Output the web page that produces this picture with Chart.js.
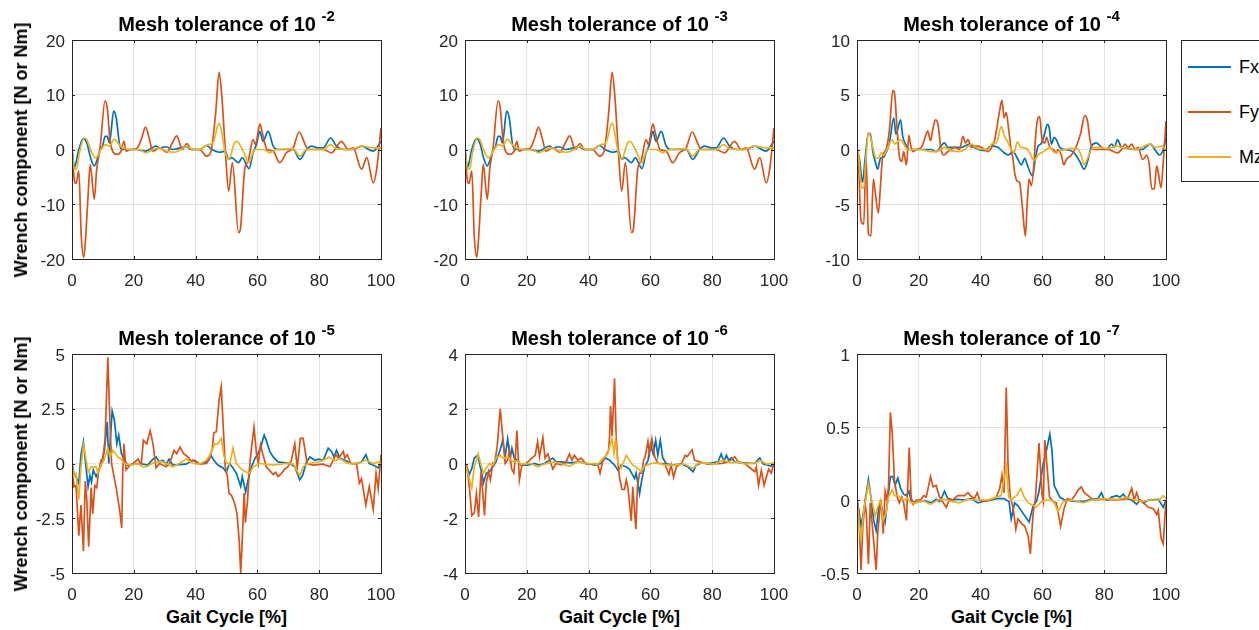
<!DOCTYPE html>
<html>
<head>
<meta charset="utf-8">
<script src="https://cdn.jsdelivr.net/npm/chart.js@4.4.1/dist/chart.umd.min.js"></script>
<style>
  body { margin: 0; width: 1259px; height: 630px; background: #fff; position: relative; overflow: hidden;
         font-family: "Liberation Sans", Arial, sans-serif; color: #000; }
  .plot { position: absolute; }
  .title { position: absolute; font-weight: bold; font-size: 20px; line-height: 20px; white-space: nowrap; transform: translateX(-50%); }
  .title .sup { font-size: 15px; position: relative; top: -10px; }
  .ylab { position: absolute; font-weight: bold; font-size: 18px; line-height: 18px; white-space: nowrap;
          transform: translate(-50%, -50%) rotate(-90deg); }
  .xlab { position: absolute; font-weight: bold; font-size: 18px; line-height: 18px; white-space: nowrap; transform: translateX(-50%); }
  #legend { position: absolute; left: 1181px; top: 40px; width: 100px; height: 142px; border: 1px solid #262626; box-sizing: border-box; background: #fff; }
  #legend .row { position: absolute; left: 6px; height: 20px; }
  #legend .sw { position: absolute; left: 0; top: 9px; width: 43px; height: 2px; }
  #legend .lt { position: absolute; left: 51px; top: 0; font-size: 18px; line-height: 20px; color: #000; }
</style>
</head>
<body>
<div id="root"></div>
<div id="legend"></div>
<script>
'use strict';

// ── Data (gait cycle %, value) ───────────────────────────────
const SERIES = ['Fx', 'Fy', 'Mz'];
const COLORS = ['#0072BD', '#D95319', '#EDB120'];
const X_TICKS = [0, 20, 40, 60, 80, 100];
const TOLERANCES = ['-2', '-3', '-4', '-5', '-6', '-7'];
const Y_RANGES = [[-20, 20, 10], [-20, 20, 10], [-10, 10, 5], [-5, 5, 2.5], [-4, 4, 2], [-0.5, 1, 0.5]];

// tolerance 1e-2 (1e-3 gives the same curves)
const FX_2 = [[0,0],[0.8,-3.3],[1.3,-2.4],[2.2,0],[3.7,2.0],[4.8,1.2],[6,-1.5],[7.2,-3.0],[8,-2.1],[9.1,0],[9.9,0.6],[10.7,2.4],[11.4,2.4],[12.1,1.2],[13.5,7.0],[14.3,5.8],[15.4,0.9],[16.4,0],[21,0],[23.8,-0.3],[27.2,0.6],[28.3,0.3],[30.5,0.5],[32.6,0],[37,0.5],[38.6,0],[41.3,0],[43.5,0.7],[45.6,-0.1],[47.8,-0.5],[49.6,-0.3],[50.7,-1.8],[51.6,-1.5],[53.9,-2.4],[55.1,-1.5],[57.3,-3.5],[58.6,-0.6],[59.7,0.9],[60.8,3.3],[61.8,1.5],[63.5,3.3],[65.1,0.6],[66.7,0],[71.6,0],[73.7,-1.8],[75.9,0],[77.5,0.6],[79.7,0.3],[81.3,0.3],[83.7,2.1],[85.6,0.6],[87.8,0],[91,0],[93.7,0.6],[97.5,-0.3],[100,1.5]];
const FY_2 = [[0,0],[0.8,-5.8],[1.3,-6.2],[2.2,-3.9],[3.0,-15.8],[3.8,-19.7],[4.3,-17],[5.2,-8.5],[5.9,-2.7],[7.2,-9.1],[8,-3.6],[9.1,0.3],[10.7,8.9],[11.4,7.6],[12.3,1.8],[13.3,-0.5],[14.5,-0.9],[15.9,-0.3],[16.8,1.5],[17.5,-0.3],[19,0],[21,0.2],[22.5,2],[23.8,4.1],[25,2],[26.2,-0.3],[28.3,0.3],[30.7,-0.5],[32.3,1],[33.9,2.5],[35.7,0],[37.2,1.1],[38.6,0],[41.3,0],[43.5,-1.2],[45,-0.3],[46.5,6.7],[47.6,14.1],[48.5,9.7],[49.6,0],[50.7,-7.6],[51.9,-2.4],[53.9,-15.2],[54.5,-14.5],[55.9,-3.6],[57,-2.1],[58.6,1.8],[59.4,0.9],[60.8,4.7],[61.6,3.0],[63.1,0],[65.1,-0.3],[67.2,-2.4],[69.4,-0.6],[71.6,0.3],[73.5,3.2],[75.4,1.0],[76.4,0],[81.3,0],[84,-0.6],[87.2,1.5],[89.4,0],[91,0.3],[93.7,-3.6],[95.4,-1.5],[97.5,-6.1],[98.6,-3.6],[100,3.9]];
const MZ_2 = [[0,0],[0.8,-3.6],[1.5,-3.6],[2.4,-0.6],[4,2.1],[4.8,1.8],[6.2,-0.3],[7.6,-1.5],[8.3,-1.2],[9.4,0],[11,0.9],[12.1,0.6],[13.7,1.9],[14.8,1.2],[16.4,0.3],[18.6,0],[21.8,0],[23.8,-0.6],[26.2,0],[28.3,0.3],[30.5,-0.3],[33.2,-0.5],[35.3,0],[37,0.6],[39.1,0],[41.3,0],[44,0.9],[45.6,1.2],[47.6,4.8],[48.5,3.0],[49.4,0],[50.7,-1.8],[52.6,1.2],[53.4,1.5],[55.4,-0.3],[57.3,-2.4],[58.1,-1.2],[59.1,0],[61.8,0],[64,-0.6],[66.2,0],[71.6,0.1],[73.7,-1.2],[75.9,0],[81.3,0],[83.7,0.9],[85.6,0.1],[90,0],[93.7,0.6],[97.5,0.3],[100,0.3]];

// tolerance 1e-4
const FX_4 = [[0,0],[0.8,-0.9],[1.8,-3.0],[2.6,-0.9],[3.7,1.5],[4.3,1.4],[5.2,-0.3],[5.9,-1.1],[6.7,-1.8],[7.6,-0.8],[8.6,-0.7],[9.4,-0.3],[10.5,0.6],[11.9,2.9],[12.6,1.4],[14.1,2.7],[14.8,1.2],[15.7,0.5],[17,0],[24,0],[25.6,-0.2],[28.3,0.6],[29.4,0.2],[31.6,0.2],[33.7,0.2],[36.4,0.5],[38.6,0.1],[41.3,-0.1],[43.5,0.3],[45.6,0.2],[47.2,-0.2],[48.9,-0.5],[50.5,-0.2],[51.9,-0.8],[53.2,-1.4],[54.3,-0.8],[55.1,-1.4],[56.8,-2.4],[57.7,-0.9],[58.6,0.3],[59.5,0.5],[60.5,1.2],[61.6,2.3],[62.2,2.0],[62.9,0.5],[63.8,1.1],[64.5,0.9],[65.6,0.2],[67.2,0],[69.9,-0.2],[72.1,-1.1],[73.5,-1.8],[74.6,-1.1],[75.9,0.3],[77.5,0.6],[79.1,0.2],[80.8,0],[82.4,0.5],[83.3,0.2],[84.3,0.9],[85.4,0.3],[87.2,0.1],[90,0],[92.1,0],[95,0.5],[95.9,0.2],[98,-0.5],[99.1,0],[100,1.1]];
const FY_4 = [[0,0],[0.4,-0.6],[1.3,-6.5],[2.2,-6.8],[2.9,-0.5],[3.7,-7.7],[4.5,-7.9],[5.3,-2.7],[5.9,-3.9],[6.9,-5.8],[7.6,-3.3],[8.3,-0.6],[9.4,0],[10.5,1.8],[11.6,5.4],[12.1,5.2],[13,1.8],[13.7,-0.6],[14.5,-1.1],[15.1,-0.2],[16,-1.4],[16.8,1.3],[17.3,0.5],[18.1,-0.2],[19.1,0],[20.8,0.2],[22.4,1.4],[22.9,1.7],[23.8,0.8],[24.5,1.8],[25.4,2.7],[26.2,2.3],[27.2,0],[28.1,-0.5],[29.4,-0.2],[31.6,0.2],[33.2,0],[34.3,1.2],[35.1,0.6],[35.9,0.9],[37,0.2],[38.1,0.3],[39.1,0.3],[40.2,0.2],[41.3,0],[42.4,-0.2],[43.8,0.3],[44.5,0.8],[46.2,3.6],[46.9,4.5],[47.6,2.9],[48.3,3.4],[49.1,1.8],[49.9,0],[50.5,-0.9],[51,-2.1],[51.9,-2.9],[52.6,-3.0],[53.5,-5.2],[54.5,-7.9],[55.1,-4.8],[55.7,-2.7],[56.4,-3.3],[57.3,-1.2],[57.8,1.2],[58.6,2.9],[59.1,3.0],[59.9,0.9],[60.8,0.6],[61.3,1.1],[62.4,0.2],[63.5,0],[64.5,-0.3],[65.1,0],[66.2,-0.6],[66.9,-1.4],[67.8,-0.9],[69.4,-0.5],[71,0.3],[72.4,1.5],[73.7,3.1],[74.6,2.6],[75.4,0.9],[76.4,0],[81.3,0],[84.3,-0.3],[85.6,0],[86.7,0.5],[87.8,0.2],[88.9,0.5],[90,0],[91,0.2],[92.4,-0.9],[93,-0.8],[93.7,-0.5],[94.5,-1.2],[95.4,-3.6],[96.2,-3.6],[97,-1.5],[97.5,-2.1],[98.4,-3.5],[99.1,-1.2],[100,2.6]];
const MZ_4 = [[0,0],[0.4,-0.3],[1.5,-3.5],[2.2,-3.5],[2.8,-1.2],[3.7,1.5],[4.3,1.2],[5.1,0.2],[6.2,-0.8],[6.9,-0.8],[7.8,-0.3],[8.6,-0.5],[9.7,0],[11.4,0.9],[12.1,0.5],[14.1,0.9],[15.1,0.5],[16.4,0],[20.8,0],[24,-0.2],[25.6,-0.2],[28.3,0.2],[30.5,-0.1],[33.2,-0.2],[35.3,0.1],[37,0.5],[39.1,0.1],[42.4,0],[44,0.6],[45.1,0.6],[46.7,2.1],[47.6,1.3],[48.6,0.8],[49.9,0],[50.8,-0.3],[51.9,0.7],[53,0.2],[54.8,0.1],[55.9,-0.3],[57.3,-1.0],[58.6,-0.5],[60.8,-0.1],[62.4,0.2],[64,-0.3],[66.2,-0.1],[69.4,0.1],[71.6,0],[72.6,-0.6],[73.5,-1.4],[74.6,-0.8],[75.9,0],[78,0.2],[81.3,0.1],[84,0.3],[85.6,0.2],[90,0],[95,0.5],[96.4,0.2],[98.6,0.3],[100,0]];

// tolerance 1e-5
const FX_5 = [[0,0],[0.6,-0.45],[1.3,-0.6],[2.2,-0.9],[2.9,0.4],[3.7,1.0],[4.3,0.15],[5.2,-1.05],[5.8,-0.55],[6.3,-0.85],[6.9,-0.3],[7.8,-0.6],[8.4,-0.4],[9.4,-0.07],[10.5,0.6],[11.4,1.9],[11.9,0],[13,2.4],[13.7,2.0],[14.5,0.9],[15.1,1.3],[16,0.45],[17,0.15],[18,-0.07],[22,0],[24.5,-0.07],[26.2,0.2],[27.2,0.3],[28.3,0.07],[29.4,0.15],[30.5,-0.03],[31.4,0.2],[32.6,-0.07],[36.9,-0.03],[39.1,0.15],[41.3,-0.03],[43.5,0.07],[44.8,0.4],[45.9,0.15],[47.2,-0.07],[48.9,-0.2],[49.9,-0.4],[51,0],[52.1,-0.2],[53.2,-0.45],[54.6,-1.05],[55.1,-0.6],[56.2,-1.3],[57,-0.75],[58.1,-0.15],[59.1,0.2],[60.2,0.45],[61.1,0.75],[62.2,1.3],[62.9,1.05],[64,0.55],[65.1,0.3],[66.7,0.07],[70.5,0],[72.1,-0.15],[73.7,-0.75],[74.6,-0.55],[75.9,0.07],[77,0.3],[78.6,0.15],[79.7,0.2],[81.3,0.15],[82.9,0.7],[84,0.55],[84.8,0.3],[85.6,0.6],[86.7,0.25],[88.3,0.15],[91,-0.03],[93.7,0.07],[95.1,0.4],[96.2,0],[97.5,-0.07],[99.1,-0.2],[100,0.07]];
const FY_5 = [[0,0],[0.6,-1.06],[1.3,-1.0],[2.2,-3.3],[2.9,-1.9],[3.7,-4.0],[4.3,-0.8],[4.8,-1.7],[5.4,-3.8],[6.2,-1.1],[6.7,-2.3],[7.4,-1.0],[8,-1.1],[8.6,-0.4],[9.4,0.15],[9.9,0.1],[10.7,1.1],[11.6,4.85],[12.1,2.6],[12.8,0],[13.4,-0.45],[14.3,-1.1],[15.4,-2.1],[16.1,-2.95],[16.4,-0.5],[16.8,0.9],[17.5,-0.3],[18.6,-0.1],[19.7,0],[21.4,0.2],[22.4,-0.05],[23.1,1.06],[24.2,0.9],[25.3,1.5],[26.2,0.9],[27.2,-0.2],[28.3,0],[30.5,-0.15],[31.6,0],[33,0.6],[33.9,0.45],[35,0.75],[36.1,0.45],[37.5,0.3],[38.6,0.1],[39.7,0.15],[41.3,-0.03],[43.5,0],[44.5,0.2],[45.4,0.7],[45.9,1.4],[46.7,1.45],[47.6,2.9],[48.3,3.5],[48.9,1.8],[49.6,-0.15],[50.3,-0.6],[50.8,-1.35],[51.6,-1.45],[52.6,-1.8],[53.4,-2.3],[54.1,-3.5],[54.6,-5.0],[55.1,-3.5],[55.7,-1.35],[56.1,-2.7],[56.8,-1.7],[57.3,-0.45],[58.1,0.75],[58.9,1.65],[59.7,0.45],[60.3,0],[61,0.85],[61.8,0.4],[62.9,-0.15],[65.1,-0.5],[65.9,-0.4],[66.7,-0.6],[67.8,-0.45],[68.9,-0.25],[69.9,-0.15],[71,0.15],[72.1,0.9],[72.9,-0.2],[73.9,1.15],[74.8,1.15],[76.1,0],[78,-0.07],[81.3,-0.03],[83.5,-0.15],[85.4,0.4],[86.2,0.25],[87.8,0.55],[88.3,0.25],[89.1,0.4],[90.2,0],[92.1,0],[93,-0.9],[93.7,-0.7],[95.1,-1.9],[96.2,-1.05],[97.5,-2.1],[98.4,-0.45],[99.1,-1.15],[100,0.4]];
const MZ_5 = [[0,0],[0.6,-0.6],[1.3,-0.45],[2.2,-1.65],[2.9,-0.15],[3.7,0.85],[4.3,0.4],[5.2,-0.4],[6.2,-0.15],[7.8,-0.15],[8.4,-0.45],[9.4,-0.07],[10.5,0.2],[11.6,0.7],[12.3,0.3],[13.2,0.6],[14.1,0.45],[14.8,0.3],[15.9,0.2],[17,0],[19.1,-0.07],[21.4,0],[22.9,-0.15],[24.5,-0.12],[26.7,0.07],[29.4,0.07],[32.6,-0.15],[34.3,-0.03],[37,0.2],[39.1,0],[41.3,-0.03],[43.5,0.15],[44.5,0.35],[46.2,0.9],[47.2,0.9],[48.3,1.15],[49.1,0.4],[49.9,0.07],[51,-0.07],[52.1,0.7],[53.2,0],[55.1,-0.3],[56.2,-0.38],[57.5,-0.45],[58.6,-0.15],[60.8,0],[65.1,-0.07],[69.4,0],[71.6,-0.03],[73.7,-0.55],[74.8,-0.15],[76.4,0],[79.7,0.07],[81.3,0.15],[83.2,0.3],[85.1,0.12],[86.7,0.23],[88.9,0.03],[91,-0.03],[93.7,0.07],[95.1,0.15],[97.5,0],[99.1,0.07],[100,0]];

// tolerance 1e-6
const FX_6 = [[0,0],[0.6,-0.12],[1.4,-0.4],[2.2,-0.18],[3,0.2],[4.1,0.3],[5.2,-0.25],[6,-0.7],[6.9,-0.35],[7.9,-0.3],[9,-0.12],[10,0.06],[11.4,0.5],[12.2,0.85],[13,0.25],[13.8,0.9],[14.6,0.18],[15.2,0.55],[16,0.18],[17,0.12],[18.1,-0.06],[20.3,-0.06],[22.4,0],[24,-0.06],[25.7,0],[28.4,0.2],[29.5,0.06],[31.1,0.06],[34.3,0.02],[37,0.06],[39.7,0],[41.9,-0.06],[44,0],[45.4,0.2],[46.8,0.12],[48.4,-0.06],[49.5,-0.25],[50.5,-0.06],[52.2,-0.12],[53.2,-0.2],[54.9,-0.55],[55.4,-0.35],[56.5,-1.1],[57.2,-0.6],[58.1,-0.12],[59.2,0.1],[60,0.7],[60.9,0.35],[61.7,0.85],[62.4,0.3],[63.2,0.85],[64,0.2],[65.1,0],[66.7,-0.06],[70,-0.02],[72.1,-0.12],[73.8,-0.3],[74.8,-0.06],[76.4,0.02],[78.6,0],[81.9,0.06],[82.9,0.35],[83.8,0.06],[84.6,0.3],[85.3,0.12],[86.2,0.2],[87.3,0.06],[89.4,0.02],[93.7,0],[95.4,0.2],[96.5,-0.02],[98,-0.06],[99.1,-0.1],[100,0.02]];
const FY_6 = [[0,0],[0.6,-0.12],[1.4,-0.85],[2.2,-1.9],[3,-1.8],[3.7,-1.1],[4.4,-1.95],[5.2,-0.3],[5.7,-1.0],[6.3,-1.9],[6.9,-0.7],[7.6,-0.3],[8.2,-0.6],[9,0],[9.5,-0.05],[10.4,0.6],[11.4,2.0],[12.2,1.0],[13,0],[13.8,0.12],[14.4,0.5],[15.1,-0.2],[15.8,-0.35],[16.3,0.25],[16.8,1.2],[17.6,-0.6],[18.4,-0.05],[19.8,0],[21.6,0.2],[22.7,0.3],[23.5,0.8],[24.1,0.25],[25.2,0.95],[25.9,0.2],[26.8,0.35],[28.4,-0.2],[29.5,0],[31.3,-0.05],[32.7,0.05],[33.8,0.35],[34.6,0.12],[35.4,0.3],[36.5,0.12],[37.6,0.2],[39.2,-0.02],[41.9,0],[43,-0.05],[43.7,-0.35],[44.6,0.1],[45.7,0.3],[46.5,0.5],[46.8,1.0],[47.1,2.1],[47.6,1.0],[48.4,3.1],[48.9,1.0],[49.5,0],[50,-0.5],[50.8,-0.95],[51.6,-0.95],[52.2,-0.6],[52.7,-0.85],[53.8,-2.1],[54.3,-0.85],[55.3,-2.4],[55.8,-0.85],[56.5,-0.35],[57.2,-0.35],[57.8,0.12],[58.3,0.25],[59.2,0.8],[59.7,0.35],[60.5,0.9],[61.4,0.25],[62.4,0],[64.6,0],[66,-0.4],[66.7,-0.05],[67.5,-0.5],[68.4,-0.12],[70,0],[71.3,0.3],[71.9,0.25],[73.5,0.5],[74.3,0.12],[75.9,0.06],[78.6,-0.02],[83,0],[85.1,0.06],[87.3,0.25],[88.4,0.06],[90.5,0],[92.7,-0.2],[93.8,-0.3],[94.3,-0.12],[95,-0.8],[95.9,-0.25],[96.8,-0.8],[97.5,-0.5],[98.3,-0.2],[99.1,-0.35],[100,0]];
const MZ_6 = [[0,0],[0.9,-0.36],[2.2,-0.9],[3,-0.12],[4.3,0.35],[5.2,-0.06],[6,-0.35],[6.8,-0.18],[7.9,0],[9,-0.06],[10,0.18],[11.4,0.3],[12.5,0.18],[13.8,0.25],[14.9,0.12],[16,0.06],[17,0.1],[18.1,-0.02],[21.4,0],[23.5,-0.12],[25.7,-0.02],[28.9,0.06],[31.1,0],[33.8,-0.1],[36.5,0.06],[39.7,0],[43,-0.02],[44.6,0.18],[46.2,0.35],[46.8,0.6],[47.6,0.9],[48.2,0.36],[48.7,0.9],[49.5,0],[50.5,-0.18],[52.2,0.3],[53.2,0.12],[54.3,-0.06],[55.4,-0.12],[57,-0.3],[58.1,-0.1],[60.3,0],[62.4,0.02],[64.6,-0.06],[67.8,-0.06],[71,-0.02],[73.8,-0.18],[75.4,0],[77.5,0.02],[80.8,-0.02],[83.5,0.12],[86.2,0.02],[88.3,0.06],[90.5,-0.02],[93.7,0.02],[95.9,0.1],[97.5,-0.02],[100,0.02]];

// tolerance 1e-7
const FX_7 = [[0,0],[0.6,-0.07],[1.3,-0.18],[2.2,-0.07],[3.7,0.14],[4.5,0.02],[5.4,-0.14],[6.2,-0.21],[7,-0.06],[7.6,-0.02],[9.1,-0.15],[9.7,-0.04],[10.8,0.16],[11.6,0.16],[12.3,0.1],[13.2,0.15],[14.1,0.08],[15.1,0.04],[15.9,0.03],[16.8,0.06],[17.5,0],[18.6,-0.02],[21.8,-0.005],[24,-0.02],[25.6,0.005],[26.7,-0.01],[27.5,0.02],[28.3,0.06],[29.4,0.01],[30.5,0],[32.6,0.005],[34.8,0],[37,0.01],[39.1,-0.02],[40.8,-0.01],[43.5,0],[45.6,0.01],[47.6,0.01],[48.3,0],[49.2,-0.01],[49.9,-0.13],[51,-0.02],[52.1,-0.04],[53.7,-0.09],[55.7,-0.15],[57,-0.04],[58.1,-0.01],[58.9,0.06],[60.2,0.24],[61.3,0.34],[62.4,0.45],[63.1,0.34],[63.8,0.1],[64.5,0.07],[65.6,0.02],[67.2,0],[70.5,-0.01],[73.2,-0.01],[75.9,0.005],[78,0.01],[79.1,0.05],[80,0.005],[81.3,0],[82.4,0.02],[84,0.03],[85.1,0.02],[86.2,0.04],[87.2,0.01],[88.9,0],[90.5,-0.03],[91.6,0],[92.7,-0.02],[94.3,0],[97.5,0.005],[99.1,-0.05],[100,0]];
const FY_7 = [[0,0],[0.6,-0.09],[1.3,-0.48],[1.9,-0.18],[2.6,-0.02],[3,-0.09],[3.7,-0.44],[4.3,-0.02],[5.1,-0.21],[6.2,-0.48],[6.7,-0.23],[7.4,-0.07],[7.8,0],[8.5,-0.23],[9.1,0.06],[9.7,0],[10.2,0.09],[10.8,0.6],[11.4,0.46],[12.1,0.14],[13,0.02],[13.7,-0.02],[14.5,0.02],[15.1,-0.02],[16,-0.14],[16.9,0.36],[17.5,0.02],[18.2,-0.03],[19.2,0],[20.5,0],[21.6,0.03],[22.4,0.02],[23.8,0.16],[24.6,0.09],[25.6,0.1],[26.7,0.02],[28.9,-0.05],[30,0.01],[31,0],[32.6,0.03],[34.8,0.03],[35.9,0.05],[37.2,0.02],[38,0.01],[38.9,0.05],[39.7,0],[41.3,-0.01],[43.5,0],[45.1,0.02],[46.2,0.08],[46.9,0.17],[47.6,0.05],[48.3,0.77],[48.9,0.23],[49.6,0.02],[50.5,-0.05],[51.4,-0.2],[52.1,-0.13],[53.2,-0.16],[54.3,-0.18],[55.4,-0.25],[56.1,-0.37],[57,-0.09],[57.7,0],[58.9,0.39],[59.9,0.03],[60.3,-0.01],[60.8,0.41],[61.5,0.23],[62.3,0.02],[63.5,-0.01],[64.5,-0.02],[65.9,-0.18],[67,-0.06],[68.1,0.01],[69.4,0],[70.5,0.03],[71.6,0.07],[72.6,0.09],[73.5,0.05],[74.8,0.03],[76.4,0],[79.7,0.005],[83.5,0],[86.7,0.005],[87.8,0.02],[88.9,0.08],[89.7,0],[90.5,0.05],[91.3,0],[92.7,-0.02],[94.3,-0.05],[95.9,-0.06],[97,-0.1],[97.5,-0.07],[98.4,-0.26],[99.1,-0.3],[100,0]];
const MZ_7 = [[0,0],[0.6,-0.14],[1.3,-0.28],[2.2,-0.07],[3.7,0.11],[4.5,0.02],[5.9,-0.11],[6.7,-0.05],[7.6,0],[8.5,-0.14],[9.4,-0.09],[10.2,0.02],[11.4,0.07],[12.1,0.03],[13.2,0.03],[14.8,0],[16.4,0.01],[17.5,-0.02],[19.1,-0.02],[21.3,-0.005],[23.8,-0.03],[26.2,0],[28.3,0.005],[30.5,-0.01],[33.2,-0.02],[35.9,0.005],[38.6,0],[42.4,0],[45.1,0.02],[46.7,0.03],[48.3,0.23],[49.1,0.02],[49.9,0],[51.6,0.03],[53,0.08],[54.1,0.02],[55.4,-0.02],[58,-0.05],[59.7,-0.01],[61.3,0],[63.5,-0.005],[65.1,-0.08],[66.7,-0.01],[69.4,0],[73.2,-0.02],[75.9,0],[80.2,0.01],[84.6,0.005],[87.2,0.02],[89.9,0],[92.1,-0.01],[95.2,0],[97.8,0],[99.1,0.03],[100,0.01]];

const PANELS = [
  [FX_2, FY_2, MZ_2], [FX_2, FY_2, MZ_2], [FX_4, FY_4, MZ_4],
  [FX_5, FY_5, MZ_5], [FX_6, FY_6, MZ_6], [FX_7, FY_7, MZ_7]
];

// ── Layout (plot area edges in page pixels) ──────────────────
const COL_L = [72, 465, 857];
const COL_R = [381, 774, 1166];
const ROW_T = [40, 354];
const ROW_B = [259, 573];
const AX_W = 60, AX_H = 30, PAD_T = 14, PAD_R = 20;

const TICK_FONT = { family: '"Liberation Sans", Arial, sans-serif', size: 17 };
const INK = '#262626';

// box round the axes with inward tick marks on all four sides
const boxPlugin = {
  id: 'matBox',
  afterDraw(chart) {
    const { ctx, chartArea: a, scales: { x, y } } = chart;
    ctx.save();
    ctx.strokeStyle = INK;
    ctx.lineWidth = 1;
    ctx.strokeRect(a.left + 0.5, a.top + 0.5, a.right - a.left, a.bottom - a.top);
    ctx.beginPath();
    x.ticks.forEach(t => {
      const px = Math.round(x.getPixelForValue(t.value)) + 0.5;
      ctx.moveTo(px, a.bottom); ctx.lineTo(px, a.bottom - 3);
      ctx.moveTo(px, a.top); ctx.lineTo(px, a.top + 3);
    });
    y.ticks.forEach(t => {
      const py = Math.round(y.getPixelForValue(t.value)) + 0.5;
      ctx.moveTo(a.left, py); ctx.lineTo(a.left + 3, py);
      ctx.moveTo(a.right, py); ctx.lineTo(a.right - 3, py);
    });
    ctx.stroke();
    ctx.restore();
  }
};

const root = document.getElementById('root');

function addDiv(cls, html, left, top) {
  const d = document.createElement('div');
  d.className = cls;
  d.innerHTML = html;
  d.style.left = left + 'px';
  d.style.top = top + 'px';
  root.appendChild(d);
  return d;
}

PANELS.forEach((series, i) => {
  const col = i % 3, row = Math.floor(i / 3);
  const L = COL_L[col], R = COL_R[col], T = ROW_T[row], B = ROW_B[row];
  const [yMin, yMax, yStep] = Y_RANGES[i];

  const wrap = document.createElement('div');
  wrap.className = 'plot';
  wrap.style.left = (L - AX_W) + 'px';
  wrap.style.top = (T - PAD_T) + 'px';
  const cv = document.createElement('canvas');
  cv.width = (R - L) + AX_W + PAD_R;
  cv.height = (B - T) + PAD_T + AX_H;
  wrap.appendChild(cv);
  root.appendChild(wrap);

  new Chart(cv, {
    type: 'line',
    data: {
      datasets: series.map((pts, k) => ({
        label: SERIES[k],
        data: pts.map(([x, y]) => ({ x, y })),
        borderColor: COLORS[k],
        borderWidth: 1.7,
        pointRadius: 0,
        fill: false,
        cubicInterpolationMode: row === 0 ? 'monotone' : 'default',
        tension: 0,
        order: 2 - k
      }))
    },
    options: {
      responsive: false,
      animation: false,
      events: [],
      layout: { padding: { left: 0, top: PAD_T, right: PAD_R, bottom: 0 } },
      plugins: { legend: { display: false }, tooltip: { enabled: false }, title: { display: false } },
      scales: {
        x: {
          type: 'linear', min: 0, max: 100,
          // fixed box, no label overflow padding so every plot area lines up
          afterFit: s => { s.height = AX_H; s.paddingLeft = 0; s.paddingRight = 0; },
          afterBuildTicks: s => { s.ticks = X_TICKS.map(v => ({ value: v })); },
          grid: { color: '#e3e3e3', drawTicks: false },
          border: { display: false },
          ticks: { font: TICK_FONT, color: INK, padding: 12, autoSkip: false, maxRotation: 0, callback: v => String(v) }
        },
        y: {
          type: 'linear', min: yMin, max: yMax,
          afterFit: s => { s.width = AX_W; s.paddingTop = 0; s.paddingBottom = 0; },
          ticks: { stepSize: yStep, font: TICK_FONT, color: INK, padding: 7, labelOffset: 2, autoSkip: false, callback: v => String(v) },
          grid: { color: '#e3e3e3', drawTicks: false },
          border: { display: false }
        }
      }
    },
    plugins: [boxPlugin]
  });

  // title with superscript exponent
  addDiv('title', 'Mesh tolerance of 10 <span class="sup">' + TOLERANCES[i] + '</span>', (L + R) / 2, T - 26);
  if (row === 1) addDiv('xlab', 'Gait Cycle [%]', (L + R) / 2, 608);
  if (col === 0) addDiv('ylab', 'Wrench component [N or Nm]', 21, (T + B) / 2);
});

// ── Legend ───────────────────────────────────────────────────
const legend = document.getElementById('legend');
SERIES.forEach((name, k) => {
  const r = document.createElement('div');
  r.className = 'row';
  r.style.top = (16 + k * 45) + 'px';
  r.innerHTML = '<div class="sw" style="background:' + COLORS[k] + '"></div><div class="lt">' + name + '</div>';
  legend.appendChild(r);
});
</script>
</body>
</html>
